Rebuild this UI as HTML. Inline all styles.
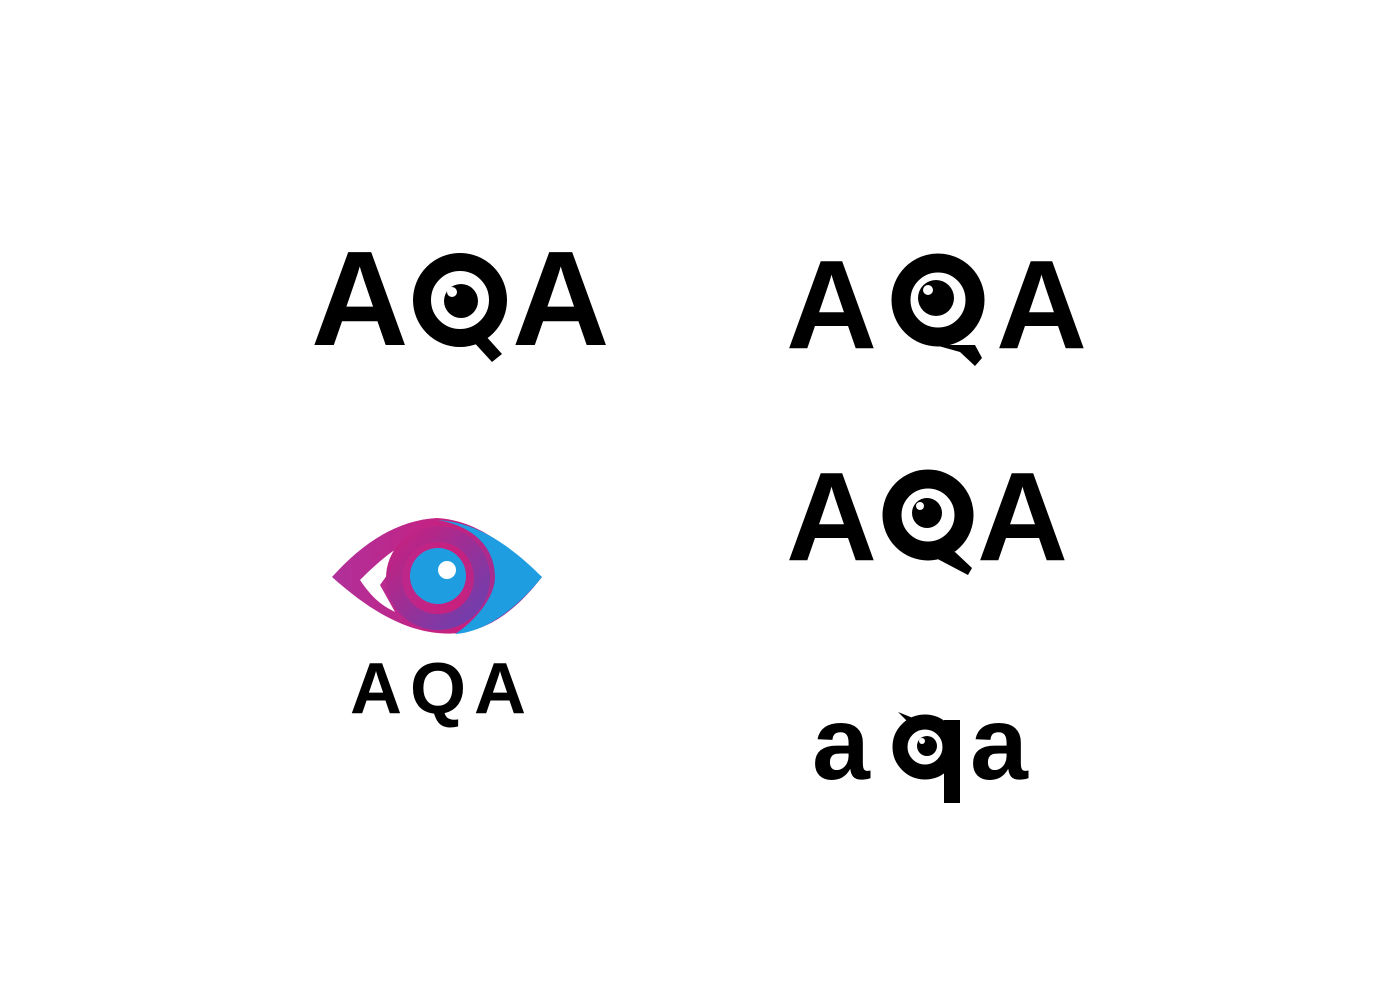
<!DOCTYPE html>
<html><head><meta charset="utf-8">
<style>
html,body{margin:0;padding:0;background:#fff;}
body{width:1391px;height:1000px;overflow:hidden;position:relative;}
svg{position:absolute;left:0;top:0;}
text{font-family:"Liberation Sans",sans-serif;font-weight:bold;fill:#000;}
</style></head>
<body>
<svg width="1391" height="1000" viewBox="0 0 1391 1000">
<defs>
<linearGradient id="eyeL" x1="0" y1="0" x2="1" y2="0">
<stop offset="0" stop-color="#b0309a"/><stop offset="0.6" stop-color="#c8207e"/><stop offset="1" stop-color="#7a3fa8"/>
</linearGradient>
<linearGradient id="ring" x1="0" y1="0" x2="1" y2="1">
<stop offset="0" stop-color="#c8207e"/><stop offset="1" stop-color="#6a40b0"/>
</linearGradient>
</defs>

<g>
<text x="311" y="345" font-size="135">A</text>
<path d="M470 338 L492 362 L502 354 L484 334 Z" fill="#000"/>
<circle cx="460" cy="300" r="38" fill="none" stroke="#000" stroke-width="18"/>
<circle cx="461" cy="301" r="17" fill="#000"/>
<circle cx="452" cy="292" r="5" fill="#fff"/>
<text x="512" y="345" font-size="135">A</text>
</g>

<g>
<text x="786" y="348" font-size="126">A</text>
<path d="M935 345 L975 345 L982 358 L975 366 L960 352 Z" fill="#000"/>
<circle cx="938" cy="300" r="37" fill="none" stroke="#000" stroke-width="19"/>
<circle cx="936" cy="298" r="18" fill="#000"/>
<circle cx="928" cy="290" r="5" fill="#fff"/>
<text x="996" y="348" font-size="126">A</text>
</g>

<g>
<text x="786" y="560" font-size="126">A</text>
<path d="M930 555 L955 552 L972 568 L968 575 Z" fill="#000"/>
<circle cx="928" cy="515" r="36" fill="none" stroke="#000" stroke-width="19"/>
<circle cx="927" cy="513" r="15" fill="#000"/>
<circle cx="920" cy="506" r="4" fill="#fff"/>
<text x="977" y="560" font-size="126">A</text>
</g>

<g>
<text x="812" y="779" font-size="104">a</text>
<circle cx="925" cy="747" r="25" fill="none" stroke="#000" stroke-width="15"/>
<rect x="944" y="720" width="16" height="83" fill="#000"/>
<circle cx="927" cy="746" r="10" fill="#000"/>
<circle cx="922" cy="741" r="3" fill="#fff"/>
<path d="M898 712 L918 720 L912 726 Z" fill="#000"/>
<text x="970" y="779" font-size="104">a</text>
</g>

<g>
<path d="M332 577 C365 540 400 520 437 518 C475 520 505 545 520 560 L542 577 C520 605 495 628 460 633 C420 637 380 620 332 577 Z" fill="url(#eyeL)"/>
<path d="M437 520 C480 522 515 550 542 577 C515 610 485 632 455 634 C470 625 495 600 495 577 C495 545 470 525 437 520 Z" fill="#1e9ee0"/>
<path d="M360 580 C380 560 395 548 412 540 L380 585 L395 612 C380 605 370 595 360 580 Z" fill="#fff"/>
<circle cx="438" cy="578" r="44" fill="none" stroke="url(#ring)" stroke-width="16"/>
<circle cx="438" cy="576" r="28" fill="#1e9ee0"/>
<circle cx="447" cy="570" r="9" fill="#fff"/>
<text x="350" y="713" font-size="72" letter-spacing="8">AQA</text>
</g>
</svg>
</body></html>
